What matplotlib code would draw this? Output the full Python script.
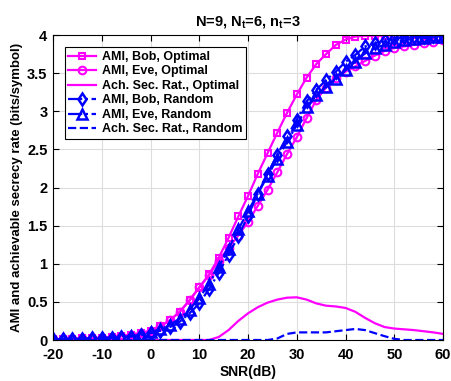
import numpy as np
import matplotlib
matplotlib.use("Agg")
import matplotlib.pyplot as plt

plt.rcParams['font.family'] = ['Liberation Sans', 'DejaVu Sans']
plt.rcParams['font.weight'] = 'bold'
plt.rcParams['mathtext.fontset'] = 'custom'
plt.rcParams['mathtext.bf'] = 'Liberation Sans:bold'
plt.rcParams['mathtext.rm'] = 'Liberation Sans:bold'
plt.rcParams['mathtext.default'] = 'bf'
plt.rcParams['axes.unicode_minus'] = False

snr = list(range(-20, 61, 2))

bob_opt = [0.01, 0.01, 0.015, 0.02, 0.025, 0.03, 0.04, 0.05, 0.07, 0.09,
           0.12, 0.18, 0.26, 0.37, 0.52, 0.69, 0.86, 1.08, 1.34, 1.62,
           1.89, 2.18, 2.45, 2.72, 2.98, 3.22, 3.44, 3.62, 3.75, 3.87,
           3.94, 3.98, 3.99, 3.99, 3.99, 4.0, 4.0, 4.0, 4.0, 4.0, 4.0]
eve_opt = [0.01, 0.01, 0.015, 0.02, 0.025, 0.03, 0.04, 0.05, 0.07, 0.09,
           0.12, 0.18, 0.26, 0.37, 0.52, 0.69, 0.85, 1.04, 1.21, 1.37,
           1.55, 1.76, 1.97, 2.20, 2.44, 2.66, 2.91, 3.15, 3.31, 3.43,
           3.52, 3.59, 3.66, 3.73, 3.79, 3.83, 3.85, 3.87, 3.89, 3.91, 3.93]
sec_opt = [0, 0, 0, 0, 0, 0, 0, 0, 0, 0,
           0, 0, 0, 0, 0, 0, 0.0, 0.04, 0.13, 0.25,
           0.35, 0.43, 0.49, 0.53, 0.555, 0.56, 0.53, 0.48, 0.45, 0.44,
           0.42, 0.37, 0.29, 0.22, 0.17, 0.15, 0.14, 0.13, 0.115, 0.10, 0.08]
bob_rnd = [0.01, 0.01, 0.012, 0.015, 0.02, 0.025, 0.03, 0.035, 0.045, 0.06,
           0.09, 0.12, 0.17, 0.24, 0.35, 0.48, 0.67, 0.88, 1.12, 1.36,
           1.63, 1.92, 2.18, 2.43, 2.67, 2.89, 3.13, 3.28, 3.41, 3.52,
           3.65, 3.74, 3.85, 3.89, 3.93, 3.96, 3.97, 3.98, 3.98, 3.99, 3.99]
eve_rnd = [0.01, 0.01, 0.012, 0.015, 0.02, 0.025, 0.03, 0.04, 0.05, 0.07,
           0.10, 0.14, 0.20, 0.28, 0.40, 0.55, 0.74, 0.96, 1.20, 1.45,
           1.69, 1.92, 2.15, 2.38, 2.60, 2.82, 3.05, 3.21, 3.32, 3.42,
           3.54, 3.65, 3.76, 3.83, 3.87, 3.91, 3.93, 3.95, 3.96, 3.97, 3.97]
sec_rnd = [0, 0, 0, 0, 0, 0, 0, 0, 0, 0,
           0, 0, 0, 0, 0, 0, 0, 0, 0, 0,
           0, 0, 0, 0.02, 0.08, 0.10, 0.10, 0.10, 0.10, 0.115,
           0.13, 0.145, 0.13, 0.09, 0.05, 0.015, 0, 0, 0, 0, 0]

labels = ['AMI, Bob, Optimal', 'AMI, Eve, Optimal', 'Ach. Sec. Rat., Optimal',
          'AMI, Bob, Random', 'AMI, Eve, Random', 'Ach. Sec. Rat., Random']

mag = '#FF00FF'
blu = '#0000FF'

fig = plt.figure(figsize=(4.51, 3.81), dpi=100)
ax = fig.add_axes([0.1175, 0.1076, 0.865, 0.8005])

lw = 1.6
ax.plot(snr, bob_opt, '-', color=mag, lw=lw, marker='s', ms=5, mfc='none', mew=1.5, label=labels[0])
ax.plot(snr, eve_opt, '-', color=mag, lw=lw, marker='o', ms=5.5, mfc='none', mew=1.5, label=labels[1])
ax.plot(snr, sec_opt, '-', color=mag, lw=lw, label=labels[2])
ax.plot(snr, bob_rnd, '-.', color=blu, lw=lw, marker='d', ms=6.5, mfc='none', mew=1.8, label=labels[3])
ax.plot(snr, eve_rnd, '-.', color=blu, lw=lw, marker='^', ms=6.5, mfc='none', mew=1.8, label=labels[4])
ax.plot(snr, sec_rnd, '--', color=blu, lw=lw, label=labels[5])

ax.set_xlim(-20, 60)
ax.set_ylim(0, 4)
ax.set_xticks(range(-20, 61, 10))
ax.set_yticks(np.arange(0, 4.01, 0.5))
ax.set_yticklabels(['0', '0.5', '1', '1.5', '2', '2.5', '3', '3.5', '4'])
ax.grid(True, color='#DDDDDD', lw=0.8)
ax.set_axisbelow(True)
ax.tick_params(direction='in', top=True, right=True, labelsize=10.5, length=4, width=0.8)
ax.tick_params(axis='x', pad=6)
ax.tick_params(axis='y', pad=4)
for lab in ax.get_xticklabels() + ax.get_yticklabels():
    lab.set_fontweight('bold')
for s in ax.spines.values():
    s.set_linewidth(0.8)

ax.set_xlabel('SNR(dB)', fontsize=10, fontweight='bold', labelpad=2)
ax.set_ylabel('AMI and achievable secrecy rate (bits/symbol)', fontsize=9.5, fontweight='bold', labelpad=3)
ax.set_title(r'N=9, N$_t$=6, n$_t$=3', fontsize=10.5, fontweight='bold', pad=7)

leg = ax.legend(loc='upper left', bbox_to_anchor=(0.03, 0.96), fontsize=9,
                frameon=True, fancybox=False, edgecolor='black', framealpha=1,
                handlelength=2.2, handletextpad=0.5, borderpad=0.3, labelspacing=0.2,
                borderaxespad=0)
leg.get_frame().set_linewidth(0.8)
for t in leg.get_texts():
    t.set_fontweight('bold')

fig.savefig('out.png', dpi=100)
